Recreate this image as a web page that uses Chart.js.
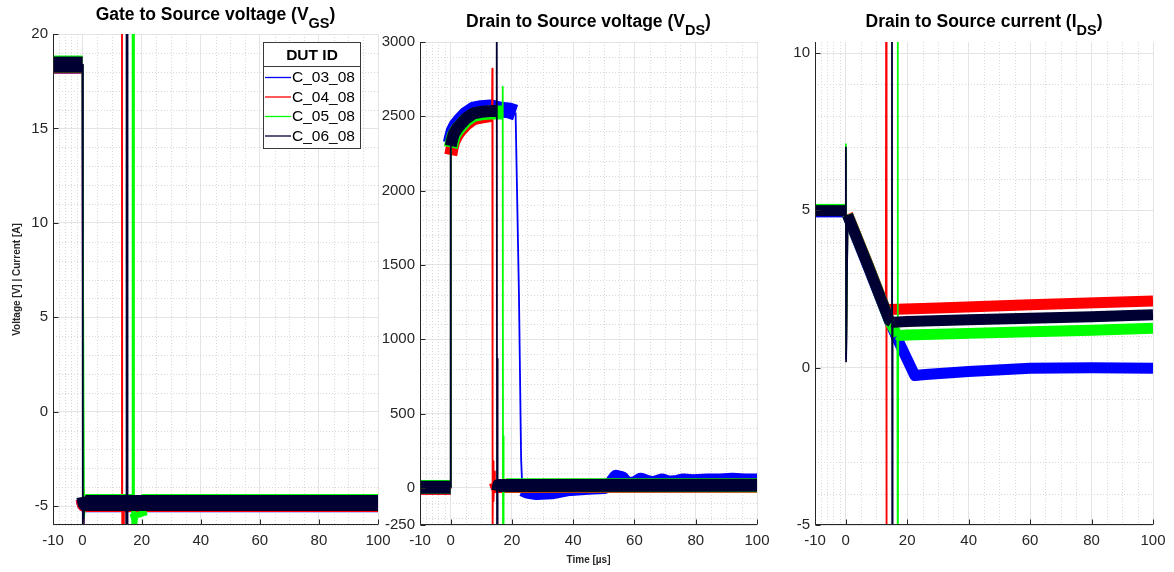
<!DOCTYPE html>
<html>
<head>
<meta charset="utf-8">
<script src="https://cdn.jsdelivr.net/npm/chart.js@4/dist/chart.umd.min.js"></script>
<style>
html,body{margin:0;padding:0;background:#fff;}
#wrap{position:relative;width:1174px;height:572px;overflow:hidden;background:#fff;}
canvas{position:absolute;top:0;}
</style>
</head>
<body>
<div id="wrap">
<canvas id="c1" width="398" height="572" style="left:0px"></canvas>
<canvas id="c2" width="408" height="572" style="left:372px"></canvas>
<canvas id="c3" width="404" height="572" style="left:770px"></canvas>
</div>
<script>
// ---------- labels ----------
const seriesNames = ['C_03_08', 'C_04_08', 'C_05_08', 'C_06_08'];
const legendTitle = 'DUT ID';
const titleMain = ['Gate to Source voltage (V', 'Drain to Source voltage (V', 'Drain to Source current (I'];
const titleSub = ['GS', 'DS', 'DS'];
const titleEnd = ')';
const yAxisLabel = 'Voltage [V] | Current [A]';
const xAxisLabel = 'Time [µs]';

// ---------- tick labels ----------
const timeTicks = [-10, 0, 20, 40, 60, 80, 100];
const timeMinorTicks = [-8, -6, -4, -2, 5, 10, 15, 25, 30, 35, 45, 50, 55, 65, 70, 75, 85, 90, 95];
const vgsTicks = [-5, 0, 5, 10, 15, 20];
const vgsMinorTicks = [-6, -4, -3, -2, -1, 1, 2, 3, 4, 6, 7, 8, 9, 11, 12, 13, 14, 16, 17, 18, 19];
const vdsTicks = [-250, 0, 500, 1000, 1500, 2000, 2500, 3000];
const vdsMinorTicks = [-200, -100, 100, 200, 300, 400, 600, 700, 800, 900, 1100, 1200, 1300, 1400, 1600, 1700, 1800, 1900, 2100, 2200, 2300, 2400, 2600, 2700, 2800, 2900];
const idsTicks = [-5, 0, 5, 10];
const idsMinorTicks = [-4, -3, -2, -1, 1, 2, 3, 4, 6, 7, 8, 9];

// ---------- Gate to Source voltage [V] ----------
const vgsTime_C03 = [-10, 0, 0.25, 0.5, 0.9, 100];
const vgs_C03     = [18.35, 18.35, -6.4, -4.6, -4.87, -4.87];
const vgsTime_C04 = [-10, 0, 0.25, 0.5, 0.9, 13.25, 13.35, 13.45, 13.6, 13.8, 14.0, 14.3, 100];
const vgs_C04     = [18.36, 18.36, -6.4, -4.6, -4.86, -4.86, 26, -10, -5.3, -6.6, -5.1, -4.86, -4.86];
const vgsTime_C05 = [-10, 0, 0.2, 0.5, 0.9, 16.8, 16.9, 17.0, 17.15, 17.4, 17.8, 18.2, 18.7, 19.3, 20.0, 100];
const vgs_C05     = [18.41, 18.41, 5.8, -5.6, -4.81, -4.81, 26, -10, 24, -6.2, -5.2, -6.0, -5.3, -5.6, -4.81, -4.81];
const vgsTime_C06 = [-10, 0, 0.1, 0.35, 0.6, 1.0, 14.75, 14.85, 14.95, 15.05, 15.15, 15.3, 100];
const vgs_C06     = [18.38, 18.38, -7.5, -5.9, -4.5, -4.84, -4.84, 26, -10, 26, -10, -4.84, -4.84];

// ---------- Drain to Source voltage [V] ----------
const vdsTime_C03 = [-10, 0, 0.05, 0.5, 1, 2, 3, 5, 7.5, 10, 13, 16, 19, 21.2, 22.3, 23.0, 23.4, 25, 28, 33, 38, 45, 50, 52, 54, 56, 57.5, 60, 62, 64, 66, 69, 71, 74, 76, 79, 84, 88, 92, 96, 100];
const vds_C03     = [2, 2, 2320, 2360, 2400, 2440, 2465, 2510, 2545, 2555, 2560, 2545, 2540, 2525, 1300, 200, -10, -25, -35, -30, -10, 0, 5, 20, 75, 65, 25, 30, 55, 40, 30, 50, 35, 40, 50, 45, 50, 50, 55, 50, 50];
const vdsTime_C04 = [-10, 0, 0.05, 0.5, 1, 2, 3, 5, 7.5, 10, 13, 13.5, 13.6, 13.7, 13.85, 14.0, 14.2, 14.45, 14.7, 15.2, 100];
const vds_C04     = [0, 0, 2240, 2290, 2330, 2370, 2400, 2445, 2485, 2495, 2505, 2505, 2820, -320, 180, -90, 110, -30, 40, 12, 14];
const vdsTime_C05 = [-10, 0, 0.05, 0.5, 1, 2, 3, 5, 7.5, 10, 13, 15, 16.9, 17.0, 17.1, 17.2, 17.35, 17.6, 18, 100];
const vds_C05     = [6, 6, 2290, 2330, 2370, 2405, 2430, 2475, 2510, 2520, 2525, 2525, 2525, 2700, -320, 350, -50, 30, 17, 17];
const vdsTime_C06 = [-10, 0, 0.05, 0.5, 1, 2, 3, 5, 7.5, 10, 13, 14.95, 15.05, 15.15, 15.25, 15.4, 15.7, 100];
const vds_C06     = [4, 4, 2300, 2345, 2380, 2415, 2440, 2485, 2520, 2530, 2535, 2535, 3300, -320, 870, -20, 15, 17];

// ---------- Drain to Source current [A] ----------
const idsTime_C03 = [-10, 0, 0.05, 0.12, 0.6, 7.5, 14.2, 16.5, 22.5, 26, 40, 60, 80, 100];
const ids_C03     = [4.95, 4.95, 6.8, 0.3, 4.84, 3.15, 1.48, 0.98, -0.25, -0.22, -0.12, -0.02, 0.0, -0.02];
const idsTime_C04 = [-10, 0, 0.05, 0.12, 0.6, 7.5, 13.05, 13.15, 13.25, 13.35, 13.5, 14, 30, 60, 100];
const ids_C04     = [5.02, 5.02, 6.9, 0.5, 4.88, 3.22, 1.82, 12, -7, 1.85, 1.82, 1.85, 1.9, 2.0, 2.12];
const idsTime_C05 = [-10, 0, 0.05, 0.12, 0.6, 7.5, 14.2, 16.8, 16.9, 17.0, 17.1, 17.5, 20, 40, 60, 80, 100];
const ids_C05     = [5.03, 5.03, 7.1, 0.5, 4.86, 3.2, 1.5, 1.02, 12, -7, 1.05, 1.02, 1.04, 1.09, 1.14, 1.19, 1.25];
const idsTime_C06 = [-10, 0, 0.05, 0.12, 0.6, 7.5, 14.2, 14.95, 15.05, 15.15, 15.25, 15.5, 20, 40, 60, 80, 100];
const ids_C06     = [4.99, 4.99, 7.0, 0.2, 4.85, 3.18, 1.5, 1.45, 12, -7, 1.45, 1.44, 1.47, 1.52, 1.57, 1.62, 1.68];

// ---------- styles ----------
const FONT = "'Liberation Sans', Arial, Helvetica, sans-serif";
const seriesColors = ['#0000ff', '#ff0000', '#00ff00', '#000033'];
const drawOrder = [4, 3, 2, 1];
const SPIKE_W = 1.8;
const AXIS_COLOR = '#262626';

function segWidth(ctx, cfg, i) {
  const dx = Math.abs(ctx.p1.x - ctx.p0.x), dy = Math.abs(ctx.p1.y - ctx.p0.y);
  if (dy > 10 && dy > 4 * dx) return SPIKE_W;
  if (cfg.highLevel !== undefined) {
    const d = ctx.chart.data.datasets[ctx.datasetIndex].data;
    if (d[ctx.p0DataIndex].y > cfg.highLevel && d[ctx.p1DataIndex].y > cfg.highLevel) return cfg.highWidth[i];
  }
  return cfg.bandWidth[i];
}

const axisDeco = {
  id: 'axisDeco',
  beforeDatasetsDraw(chart, a, o) {
    const {ctx, chartArea: ca, scales: {x, y}} = chart;
    ctx.save();
    ctx.strokeStyle = '#d9d9d9'; ctx.lineWidth = 1; ctx.setLineDash([1, 2]);
    o.xMinor.forEach(v => {
      const px = Math.round(x.getPixelForValue(v)) + 0.5;
      ctx.beginPath(); ctx.moveTo(px, ca.top); ctx.lineTo(px, ca.bottom); ctx.stroke();
    });
    o.yMinor.forEach(v => {
      const py = Math.round(y.getPixelForValue(v)) + 0.5;
      ctx.beginPath(); ctx.moveTo(ca.left, py); ctx.lineTo(ca.right, py); ctx.stroke();
    });
    ctx.restore();
  },
  afterDatasetsDraw(chart, a, o) {
    const {ctx, chartArea: ca, scales: {x, y}} = chart;
    ctx.save();
    ctx.strokeStyle = AXIS_COLOR; ctx.lineWidth = 1;
    const lx = Math.round(ca.left) + 0.5, by = Math.round(ca.bottom) - 0.5;
    ctx.beginPath(); ctx.moveTo(lx, ca.top); ctx.lineTo(lx, by); ctx.lineTo(ca.right, by); ctx.stroke();
    x.ticks.forEach(t => {
      const px = Math.round(x.getPixelForValue(t.value)) + 0.5;
      ctx.beginPath(); ctx.moveTo(px, by); ctx.lineTo(px, by - 5); ctx.stroke();
    });
    y.ticks.forEach(t => {
      const py = Math.round(y.getPixelForValue(t.value)) + 0.5;
      ctx.beginPath(); ctx.moveTo(lx, py); ctx.lineTo(lx + 5, py); ctx.stroke();
    });
    ctx.restore();
  }
};

const boxLegend = {
  id: 'boxLegend',
  afterDatasetsDraw(chart, a, o) {
    if (!o.show) return;
    const ctx = chart.ctx;
    ctx.save();
    ctx.fillStyle = '#fff';
    ctx.fillRect(o.x, o.y, o.w, o.h);
    ctx.strokeStyle = '#3a3a3a'; ctx.lineWidth = 1;
    ctx.strokeRect(o.x + 0.5, o.y + 0.5, o.w, o.h);
    ctx.beginPath(); ctx.moveTo(o.x, o.y + 24.5); ctx.lineTo(o.x + o.w, o.y + 24.5); ctx.stroke();
    ctx.fillStyle = '#000';
    ctx.font = 'bold 15.5px ' + FONT;
    ctx.textAlign = 'center'; ctx.textBaseline = 'middle';
    ctx.fillText(o.title, o.x + o.w / 2 + 0.5, o.y + 13.5);
    ctx.font = '15.5px ' + FONT;
    ctx.textAlign = 'left';
    chart.data.datasets.forEach((ds, i) => {
      const yy = o.y + 35.5 + i * 19.5;
      ctx.strokeStyle = ds.borderColor; ctx.lineWidth = 1.3;
      ctx.beginPath(); ctx.moveTo(o.x + 2, yy); ctx.lineTo(o.x + 28, yy); ctx.stroke();
      ctx.fillStyle = '#000';
      ctx.fillText(ds.label, o.x + 29, yy + 0.5);
    });
    ctx.restore();
  }
};

const subTitle = {
  id: 'subTitle',
  afterDraw(chart, a, o) {
    const {ctx, chartArea: ca} = chart;
    ctx.save();
    const mainF = 'bold 17.5px ' + FONT, subF = 'bold 14.5px ' + FONT;
    ctx.font = mainF; const w1 = ctx.measureText(o.main).width; const w3 = ctx.measureText(o.end).width;
    ctx.font = subF; const w2 = ctx.measureText(o.sub).width;
    let x = (ca.left + ca.right) / 2 - (w1 + w2 + w3) / 2;
    ctx.fillStyle = '#000'; ctx.textAlign = 'left'; ctx.textBaseline = 'alphabetic';
    ctx.font = mainF; ctx.fillText(o.main, x, o.baseline); x += w1;
    ctx.font = subF; ctx.fillText(o.sub, x, o.baseline + 8); x += w2;
    ctx.font = mainF; ctx.fillText(o.end, x, o.baseline);
    ctx.restore();
  }
};

function makeChart(id, cfg) {
  const datasets = cfg.series.map((s, i) => ({
    label: seriesNames[i],
    data: s[0].map((t, k) => ({x: t, y: s[1][k]})),
    borderColor: seriesColors[i],
    backgroundColor: seriesColors[i],
    borderWidth: cfg.bandWidth[i],
    borderJoinStyle: 'round',
    pointRadius: 0,
    tension: 0,
    fill: false,
    order: drawOrder[i],
    segment: { borderWidth: ctx => segWidth(ctx, cfg, i) }
  }));
  const tickFont = {family: FONT, size: 15};
  return new Chart(document.getElementById(id), {
    type: 'line',
    data: {datasets},
    plugins: [axisDeco, boxLegend, subTitle],
    options: {
      responsive: false,
      animation: false,
      events: [],
      layout: {padding: {top: cfg.top, right: cfg.padRight, left: 0, bottom: 0}},
      scales: {
        x: {
          type: 'linear', min: -10, max: 100,
          afterBuildTicks: ax => { ax.ticks = timeTicks.map(v => ({value: v})); },
          afterFit: ax => { ax.height = 572 - cfg.bottom; },
          grid: {color: '#e4e4e4', lineWidth: 1, drawTicks: false},
          border: {display: false},
          ticks: {color: AXIS_COLOR, font: tickFont, padding: 7, maxRotation: 0, autoSkip: false, callback: v => String(v)},
          title: cfg.xTitle ? {display: true, text: cfg.xTitle, color: AXIS_COLOR, font: {family: FONT, size: 10, weight: 'bold'}, padding: {top: 0, bottom: 6}} : {display: false}
        },
        y: {
          type: 'linear', min: cfg.yMin, max: cfg.yMax,
          afterBuildTicks: ax => { ax.ticks = cfg.yTicks.map(v => ({value: v})); },
          afterFit: ax => { ax.width = cfg.yW; },
          grid: {color: '#e4e4e4', lineWidth: 1, drawTicks: false},
          border: {display: false},
          ticks: {color: AXIS_COLOR, font: tickFont, padding: 5, autoSkip: false, callback: v => String(v)},
          title: cfg.yTitle ? {display: true, text: cfg.yTitle, color: AXIS_COLOR, font: {family: FONT, size: 10, weight: 'bold'}, padding: {top: 11, bottom: 0}} : {display: false}
        }
      },
      plugins: {
        legend: {display: false},
        tooltip: {enabled: false},
        axisDeco: {xMinor: timeMinorTicks, yMinor: cfg.yMinor},
        boxLegend: cfg.legend || {show: false},
        subTitle: {main: cfg.title[0], sub: cfg.title[1], end: titleEnd, baseline: cfg.titleBaseline}
      }
    }
  });
}

makeChart('c1', {
  series: [[vgsTime_C03, vgs_C03], [vgsTime_C04, vgs_C04], [vgsTime_C05, vgs_C05], [vgsTime_C06, vgs_C06]],
  bandWidth: [17, 17, 17, 16],
  yMin: -6, yMax: 20, yTicks: vgsTicks, yMinor: vgsMinorTicks,
  top: 34, bottom: 525, padRight: 20, yW: 53,
  yTitle: yAxisLabel,
  title: [titleMain[0], titleSub[0]], titleBaseline: 19.5,
  legend: {show: true, title: legendTitle, x: 263, y: 42, w: 97, h: 106}
});

makeChart('c2', {
  series: [[vdsTime_C03, vds_C03], [vdsTime_C04, vds_C04], [vdsTime_C05, vds_C05], [vdsTime_C06, vds_C06]],
  bandWidth: [14, 14, 14, 13],
  highLevel: 1000, highWidth: [16, 13, 14, 12],
  yMin: -250, yMax: 3000, yTicks: vdsTicks, yMinor: vdsMinorTicks,
  top: 42, bottom: 525, padRight: 23, yW: 48,
  xTitle: xAxisLabel,
  title: [titleMain[1], titleSub[1]], titleBaseline: 26.5
});

makeChart('c3', {
  series: [[idsTime_C03, ids_C03], [idsTime_C04, ids_C04], [idsTime_C05, ids_C05], [idsTime_C06, ids_C06]],
  bandWidth: [11, 11, 11, 11],
  yMin: -5, yMax: 10.35, yTicks: idsTicks, yMinor: idsMinorTicks,
  top: 42, bottom: 525, padRight: 21, yW: 45,
  title: [titleMain[2], titleSub[2]], titleBaseline: 26.5
});
</script>
</body>
</html>
